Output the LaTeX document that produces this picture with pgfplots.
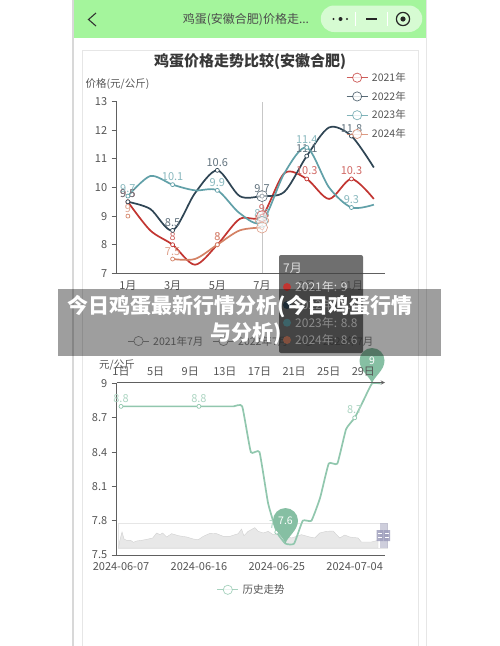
\documentclass[border=0pt]{standalone}
\usepackage{fontspec}
\setmainfont{Noto Sans CJK SC}
\usepackage{pgfplots}
\pgfplotsset{compat=1.18}
\definecolor{cA}{HTML}{C23531}
\definecolor{cB}{HTML}{2F4554}
\definecolor{cC}{HTML}{61A0A8}
\definecolor{cD}{HTML}{D48265}
\definecolor{cE}{HTML}{91C7AE}
\definecolor{axc}{HTML}{606060}
\definecolor{txt}{HTML}{555555}
\definecolor{pinc}{HTML}{86BFA3}
\definecolor{navg}{HTML}{A4F59C}
\definecolor{capg}{HTML}{D6FBD2}
\definecolor{frameg}{HTML}{D8D8D8}
\definecolor{boxg}{HTML}{E6E6E6}
\newcommand{\fs}[1]{\fontsize{#1}{#1}\selectfont}
\pgfdeclareplotmark{pin}{%
  \path[fill=pinc,draw=none] (0pt,0pt) .. controls (-2pt,7pt) and (-12.5pt,13pt) .. (-12.5pt,23pt)
    arc[start angle=180,end angle=0,radius=12.5pt] .. controls (12.5pt,13pt) and (2pt,7pt) .. (0pt,0pt);}
\pgfplotsset{
  base/.style={scale only axis,clip=false,width=268.3pt,height=171.6pt,anchor=south west,
    axis x line=bottom,axis y line=left,axis line style={draw=axc,-,line width=.9pt},
    tick align=outside,major tick length=5pt,minor tick length=5pt,
    tick style={draw=axc,line width=.9pt},
    minor tick style={draw=axc,line width=.9pt},
    xtick style={draw=none},
    tick label style={font=\fs{11},text=txt},
    /pgf/number format/assume math mode=true,
    xticklabel style={yshift=1pt},
    yticklabel style={xshift=-1pt},
  },
  ser/.style={line width=1.7pt,smooth,tension=0.5,no marks,#1},
  dots/.style={only marks,mark=*,mark size=2pt,forget plot,
    mark options={draw=#1,fill=white,line width=.7pt},
    nodes near coords,point meta=y,
    nodes near coords style={font=\fs{11},text=#1!75!white,inner sep=2pt,yshift=1.5pt}},
  big/.style={only marks,mark=*,mark size=5.5pt,forget plot,
    mark options={draw=#1!80!white,fill=white,line width=.6pt,fill opacity=.55}},
  leg/.style={legend image code/.code={%
     \draw[##1,line width=.7pt,opacity=.8] (0pt,0pt)--(21pt,0pt);
     \draw[##1,line width=.7pt,fill=white,opacity=.8] (10.5pt,0pt) circle (4.6pt);},
     legend style={draw=none,fill=none,inner sep=0pt,anchor=north west,font=\fs{10.5},text=txt,
       cells={anchor=west},row sep=4.4pt,/tikz/every odd column/.style={column sep=2pt}}},
}
\begin{document}
\begin{tikzpicture}[x=1pt,y=1pt]
\path[use as bounding box] (0,0) rectangle (500,-646);
\fill[white] (0,0) rectangle (500,-646);
% phone frame
\fill[navg] (73,0) rectangle (427,-37.5);
\draw[frameg,line width=1.3pt] (73,0) -- (73,-646);
\draw[boxg,line width=1pt] (426.5,0) -- (426.5,-646);
\draw[boxg,line width=1pt] (82.7,-646) -- (82.7,-50.7) -- (418.5,-50.7) -- (418.5,-646);
% nav
\draw[black!80,line width=1.1pt] (96,-13) -- (88.5,-19.5) -- (96,-26);
\node[anchor=center,text=black!70,font=\fs{12}] at (246,-19.5) {鸡蛋(安徽合肥)价格走...};
\fill[capg] (334,-5.5) rectangle (409,-32) (334,-5.5) arc[start angle=90,end angle=270,radius=13.25] (409,-5.5) arc[start angle=90,end angle=-90,radius=13.25];
\fill[black!85] (333.5,-19) circle (1.2) (340.5,-19) circle (2) (347,-19) circle (1.2);
\fill[black!85] (366,-18) rectangle (377,-20);
\draw[black!85,line width=1.2pt] (403,-19) circle (6.6);
\fill[black!85] (403,-19) circle (2.6);
\draw[white,line width=.4pt] (355,-12) -- (355,-26) (387,-12) -- (387,-26);
% titles
\node[anchor=center,text=black!78,font=\fs{15}\bfseries] at (250,-62) {鸡蛋价格走势比较(安徽合肥)};
\node[anchor=west,text=txt,font=\fs{10.5},inner sep=0pt] at (85.5,-84) {价格(元/公斤)};
\node[anchor=west,text=txt,font=\fs{10.5},inner sep=0pt] at (99,-365) {元/公斤};
% top chart
\begin{axis}[base,at={(116.7pt,-273.3pt)},xmin=0.5,xmax=12.5,ymin=7,ymax=13,
  xtick={1,3,5,7,9,11},xticklabels={1月,3月,5月,7月,9月,11月},
  minor xtick={0.5,2.5,4.5,6.5,8.5,10.5,12.5},
  ytick={7,8,9,10,11,12,13},leg,
  legend style={at={(0.855,1.183)}}]
\addplot[draw=black!22,line width=1pt,forget plot] coordinates {(7,7) (7,13)};
\addplot[ser=cA,draw=cA] coordinates {(1,9.5)(2,8.5)(3,8)(4,7.3)(5,8)(6,8.9)(7,9)(8,10.5)(9,10.3)(10,9.6)(11,10.3)(12,9.6)};
\addlegendentry{2021年}
\addplot[ser=cB,draw=cB] coordinates {(1,9.5)(2,9.25)(3,8.5)(4,9.8)(5,10.6)(6,9.7)(7,9.7)(8,9.85)(9,11.1)(10,12.1)(11,11.8)(12,10.7)};
\addlegendentry{2022年}
\addplot[ser=cC,draw=cC] coordinates {(1,9.7)(2,10.4)(3,10.1)(4,9.9)(5,9.9)(6,9.1)(7,8.8)(8,10.5)(9,11.4)(10,10)(11,9.3)(12,9.4)};
\addlegendentry{2023年}
\addplot[ser=cD,draw=cD] coordinates {(3,7.5)(4,7.5)(5,8)(6,8.5)(7,8.6)};
\addlegendentry{2024年}
\addplot[dots=cA] coordinates {(1,9.5)(3,8)(5,8)(7,9)(9,10.3)(11,10.3)};
\addplot[dots=cB] coordinates {(1,9.5)(3,8.5)(5,10.6)(7,9.7)(9,11.1)(11,11.8)};
\addplot[dots=cC] coordinates {(1,9.7)(3,10.1)(5,9.9)(7,8.8)(9,11.4)(11,9.3)};
\addplot[dots=cD] coordinates {(1,9)(3,7.5)(5,8)(7,8.6)};
\addplot[big=cA] coordinates {(7,9)};
\addplot[big=cB] coordinates {(7,9.7)};
\addplot[big=cC] coordinates {(7,8.8)};
\addplot[big=cD] coordinates {(7,8.6)};
\end{axis}
% middle legend (mostly hidden)
\foreach \x/\t in {128/2021,213/2022,298/2023}{
  \draw[black!40,line width=.7pt] (\x,-341) -- (\x+21,-341);
  \draw[black!40,line width=.7pt,fill=white] (\x+10.5,-341) circle (4.6);
  \node[anchor=west,inner sep=0pt,text=black!50,font=\fs{10.5}] at (\x+25,-341) {\t 年7月};
}
% slider
\begin{axis}[scale only axis,anchor=south west,at={(118.7pt,-548pt)},width=268.3pt,height=25pt,
  xmin=26,xmax=832,ymin=0,ymax=75,xtick=\empty,ytick=\empty,axis line style={draw=boxg,line width=.8pt},clip=false]
\addplot[fill=black!9,draw=black!18,line width=.4pt] coordinates {(26,3)(30,25)(36,48)(42,27)(50,23)(62,23)(70,17)(80,21)(95,23)(115,27)(128,30)(140,45)(150,40)(158,45)(170,33)(185,43)(205,37)(230,33)(250,27)(265,25)(280,35)(300,44)(320,43)(340,35)(360,35)(385,43)(395,57)(402,37)(415,50)(435,61)(445,50)(460,45)(475,50)(490,40)(505,43)(520,40)(545,30)(575,40)(600,33)(615,30)(630,45)(650,50)(670,51)(690,30)(705,39)(720,33)(745,30)(755,18)(785,18)(805,23)} \closedcycle;
\end{axis}
% slider handles
\fill[blue!30!black!35,opacity=.55] (379.5,-523) rectangle (387.5,-548);
\fill[blue!30!black!40,opacity=.8] (376.5,-530) rectangle (383,-541) (383.5,-530) rectangle (390,-541);
\draw[white,line width=.5pt] (378,-533.5) -- (381.5,-533.5) (378,-537) -- (381.5,-537) (385,-533.5) -- (388.5,-533.5) (385,-537) -- (388.5,-537);
% bottom chart
\begin{axis}[base,at={(116.7pt,-555pt)},height=171.5pt,xmin=0.5,xmax=31.5,ymin=7.5,ymax=9,
  xtick={1,10,19,28},xticklabels={2024-06-07,2024-06-16,2024-06-25,2024-07-04},
  minor xtick={0.5,9.5,18.5,27.5},
  ytick={7.5,7.8,8.1,8.4,8.7,9},leg,
  legend style={at={(0.373,-0.16)}}]
\addplot[ser=cE,draw=cE,tension=0.25] coordinates {(1,8.8)(2,8.8)(3,8.8)(4,8.8)(5,8.8)(6,8.8)(7,8.8)(8,8.8)(9,8.8)(10,8.8)(11,8.8)(12,8.8)(13,8.8)(14,8.8)(15,8.8)(16,8.4)(17,8.4)(18,7.95)(19,7.7)(20,7.6)(21,7.6)(22,7.8)(23,7.8)(24,8)(25,8.3)(26,8.3)(27,8.6)(28,8.7)(29,8.85)(30,9)(31,9)};
\addlegendentry{历史走势}
\addplot[dots=cE] coordinates {(1,8.8)(10,8.8)(19,7.7)(28,8.7)};
\addplot[only marks,draw=none,mark=pin,mark options={draw=none,fill=pinc},forget plot,nodes near coords,point meta=y,
  nodes near coords style={font=\fs{10.5},text=white,anchor=center,yshift=23pt}] coordinates {(20,7.6)(30,9)};
\end{axis}
% bottom chart upper x axis
\begin{axis}[base,at={(116.7pt,-383.5pt)},height=1pt,xmin=0.5,xmax=31.5,ymin=0,ymax=1,
  axis x line=top,axis y line=none,xtick={1,5,9,13,17,21,25,29},
  xticklabels={1日,5日,9日,13日,17日,21日,25日,29日},
  minor xtick={0.5,4.5,8.5,12.5,16.5,20.5,24.5,28.5},
  xticklabel style={yshift=-1pt}]
\end{axis}
% tooltip
\fill[black!75,opacity=.75,rounded corners=2pt] (279,-255) rectangle (363,-353);
\node[anchor=west,inner sep=0pt,text=white!88!black,font=\fs{12}] at (283,-268) {7月};
\foreach \y/\c/\t in {287/cA/2021年: 9,305/cB/2022年: 9.7,322.7/cC/2023年: 8.8,340/cD/2024年: 8.6}{
  \fill[\c] (287,-\y) circle (4);
  \node[anchor=west,inner sep=0pt,text=white!88!black,font=\fs{12}] at (295,-\y) {\t};
}
% banner
\fill[black,opacity=.38] (58,-289) rectangle (441,-356);
\node[anchor=center,inner sep=0pt,text=white,font=\fs{21}\bfseries] at (240,-307) {今日鸡蛋最新行情分析(今日鸡蛋行情};
\node[anchor=center,inner sep=0pt,text=white,font=\fs{21}\bfseries] at (246,-334) {与分析)};
\end{tikzpicture}
\end{document}
